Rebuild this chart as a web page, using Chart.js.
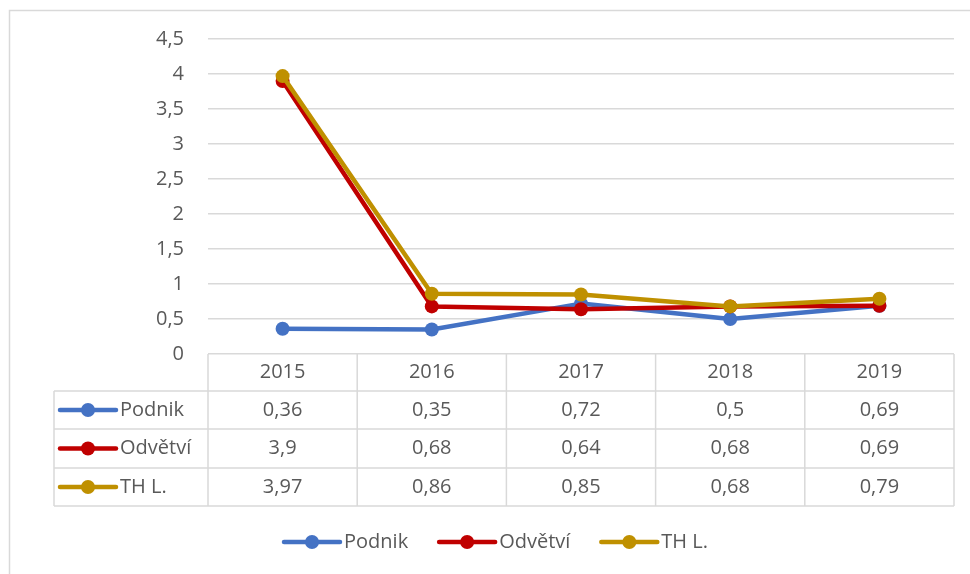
<!DOCTYPE html>
<html>
<head>
<meta charset="utf-8">
<script src="https://cdn.jsdelivr.net/npm/chart.js@4.4.1/dist/chart.umd.min.js"></script>
<style>
  html, body { margin: 0; padding: 0; background: #fff; }
  #wrap { width: 970px; height: 574px; }
</style>
</head>
<body>
<div id="wrap"><canvas id="chart" width="970" height="574"></canvas></div>
<script>
// data
const years = ['2015', '2016', '2017', '2018', '2019'];
const podnik = [0.36, 0.35, 0.72, 0.5, 0.69];
const odvetvi = [3.9, 0.68, 0.64, 0.68, 0.69];
const thL = [3.97, 0.86, 0.85, 0.68, 0.79];
const seriesNames = ['Podnik', 'Odvětví', 'TH L.'];
const seriesColors = ['#4472C4', '#C00000', '#BF9000'];

const FAMILY = '"Open Sans", "Liberation Sans", sans-serif';
const FONT = '20px ' + FAMILY;
const TEXT = '#595959';
const GRID = '#d9d9d9';

function fmt(v) {
  return String(v).replace('.', ',');
}

// small line + dot marker like Excel uses
function drawMarker(ctx, x1, x2, y, color) {
  ctx.save();
  ctx.strokeStyle = color;
  ctx.lineWidth = 4.5;
  ctx.lineCap = 'round';
  ctx.beginPath();
  ctx.moveTo(x1, y);
  ctx.lineTo(x2, y);
  ctx.stroke();
  ctx.fillStyle = color;
  ctx.beginPath();
  ctx.arc((x1 + x2) / 2, y, 7, 0, Math.PI * 2);
  ctx.fill();
  ctx.restore();
}

const tablePlugin = {
  id: 'dataTable',
  beforeDraw(chart) {
    const ctx = chart.ctx;
    ctx.save();
    ctx.fillStyle = '#fff';
    ctx.fillRect(0, 0, chart.width, chart.height);
    // outer frame (only top and left show)
    ctx.strokeStyle = GRID;
    ctx.lineWidth = 1.5;
    ctx.beginPath();
    ctx.moveTo(9.5, chart.height);
    ctx.lineTo(9.5, 10.5);
    ctx.lineTo(chart.width, 10.5);
    ctx.stroke();
    ctx.restore();
  },
  afterDraw(chart) {
    const ctx = chart.ctx;
    const xs = chart.scales.x;
    const area = chart.chartArea;
    const band = (area.right - area.left) / years.length;
    const top = area.bottom;
    const rowH = [37, 38, 39, 38];
    const rowY = [top];
    rowH.forEach((h, i) => rowY.push(rowY[i] + h));
    const tableLeft = 54;
    const bottom = rowY[rowY.length - 1];

    ctx.save();
    ctx.strokeStyle = GRID;
    ctx.lineWidth = 1.5;
    // horizontal lines
    for (let r = 1; r < rowY.length; r++) {
      ctx.beginPath();
      ctx.moveTo(tableLeft, rowY[r]);
      ctx.lineTo(area.right, rowY[r]);
      ctx.stroke();
    }
    // vertical lines
    for (let c = 0; c <= years.length; c++) {
      const x = area.left + c * band;
      ctx.beginPath();
      ctx.moveTo(x, top);
      ctx.lineTo(x, bottom);
      ctx.stroke();
    }
    ctx.beginPath();
    ctx.moveTo(tableLeft, rowY[1]);
    ctx.lineTo(tableLeft, bottom);
    ctx.stroke();

    ctx.font = FONT;
    ctx.fillStyle = TEXT;
    ctx.textAlign = 'center';
    ctx.textBaseline = 'middle';
    years.forEach((y, i) => {
      ctx.fillText(y, xs.getPixelForValue(i), (rowY[0] + rowY[1]) / 2);
    });
    const rows = [podnik, odvetvi, thL];
    rows.forEach((vals, r) => {
      const cy = (rowY[r + 1] + rowY[r + 2]) / 2;
      ctx.textAlign = 'center';
      vals.forEach((v, i) => {
        ctx.fillText(fmt(v), xs.getPixelForValue(i), cy);
      });
      drawMarker(ctx, 60, 116, cy, seriesColors[r]);
      ctx.fillStyle = TEXT;
      ctx.textAlign = 'left';
      ctx.fillText(seriesNames[r], 120, cy);
    });

    // bottom legend
    const lineLen = 56, gapText = 4, gapItem = 31;
    let total = 0;
    const widths = seriesNames.map(n => ctx.measureText(n).width);
    widths.forEach((w, i) => { total += lineLen + gapText + w + (i < widths.length - 1 ? gapItem : 0); });
    let x = 496 - total / 2;
    const ly = 542;
    seriesNames.forEach((n, i) => {
      drawMarker(ctx, x, x + lineLen, ly, seriesColors[i]);
      ctx.fillStyle = TEXT;
      ctx.textAlign = 'left';
      ctx.fillText(n, x + lineLen + gapText, ly);
      x += lineLen + gapText + widths[i] + gapItem;
    });
    ctx.restore();
  }
};

const mk = (label, data, color, order) => ({
  label: label,
  data: data,
  borderColor: color,
  backgroundColor: color,
  borderWidth: 4.5,
  pointRadius: 7,
  pointHoverRadius: 7,
  pointBorderWidth: 0,
  pointBackgroundColor: color,
  borderCapStyle: 'round',
  borderJoinStyle: 'round',
  tension: 0,
  order: order
});

new Chart(document.getElementById('chart'), {
  type: 'line',
  data: {
    labels: years,
    datasets: [
      mk(seriesNames[0], podnik, seriesColors[0], 3),
      mk(seriesNames[1], odvetvi, seriesColors[1], 2),
      mk(seriesNames[2], thL, seriesColors[2], 1)
    ]
  },
  options: {
    responsive: false,
    animation: false,
    layout: { padding: { top: 39, right: 16, bottom: 220, left: 0 } },
    plugins: {
      legend: { display: false },
      tooltip: { enabled: false }
    },
    scales: {
      x: {
        display: false,
        offset: true
      },
      y: {
        min: 0,
        max: 4.5,
        afterFit(scale) { scale.width = 208; },
        border: { display: false },
        grid: { color: GRID, lineWidth: 1.5, drawTicks: false },
        ticks: {
          stepSize: 0.5,
          padding: 24,
          color: TEXT,
          font: { family: FAMILY, size: 20 },
          callback: v => fmt(v)
        }
      }
    }
  },
  plugins: [tablePlugin]
});
</script>
</body>
</html>
